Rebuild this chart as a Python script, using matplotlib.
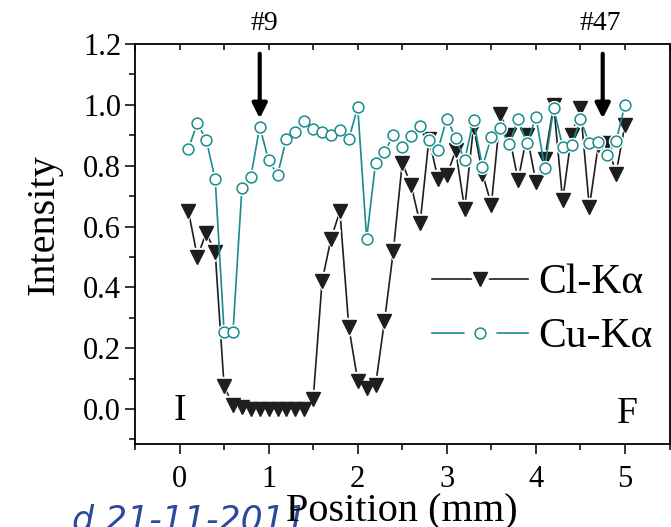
# intensity profile of Cl-Ka and Cu-Ka along the sample

import numpy as np
import matplotlib.pyplot as plt
from matplotlib.lines import Line2D
from matplotlib.ticker import MultipleLocator

position = np.round(np.arange(1, 51) * 0.1, 1)
cl_ka = [0.65, 0.50, 0.58, 0.515, 0.075, 0.012, 0.006, 0.0, 0.0, 0.0,
         0.0, 0.0, 0.0, 0.0, 0.032, 0.42, 0.56, 0.65, 0.27, 0.092,
         0.068, 0.078, 0.288, 0.52, 0.81, 0.735, 0.61, 0.889, 0.757, 0.768,
         0.85, 0.658, 0.928, 0.774, 0.672, 0.97, 0.90, 0.752, 0.90, 0.746,
         0.823, 0.999, 0.686, 0.90, 0.988, 0.664, 0.867, 0.873, 0.774, 0.935]
cu_ka = [0.856, 0.94, 0.884, 0.755, 0.254, 0.254, 0.726, 0.763, 0.928, 0.818,
         0.77, 0.889, 0.91, 0.947, 0.919, 0.911, 0.902, 0.917, 0.887, 0.993,
         0.56, 0.808, 0.845, 0.90, 0.862, 0.896, 0.929, 0.884, 0.852, 0.955,
         0.891, 0.818, 0.95, 0.796, 0.895, 0.925, 0.87, 0.952, 0.873, 0.96,
         0.793, 0.99, 0.862, 0.867, 0.952, 0.873, 0.878, 0.834, 0.88, 1.0]
arrow_labels = ["#9", "#47"]
arrow_x = [0.9, 4.75]
label_x = [0.95, 4.72]

plt.rcParams['font.family'] = ['Liberation Serif', 'DejaVu Serif']

black = '#1e1e1e'
teal = '#1a8c8c'

fig = plt.figure(figsize=(6.71, 5.27), dpi=100)
ax = fig.add_axes([0.2012, 0.1575, 0.7966, 0.759])

# lines, white halo round markers (gap like Origin), then markers
ax.plot(position, cl_ka, color=black, lw=1.2, zorder=2)
ax.plot(position, cl_ka, 'v', ms=12.5, color='white', zorder=3)
ax.plot(position, cl_ka, 'v', ms=9.5, color=black, zorder=4)
ax.plot(position, cu_ka, color=teal, lw=1.2, zorder=5)
ax.plot(position, cu_ka, 'o', ms=10, color='white', zorder=6)
ax.plot(position, cu_ka, 'o', ms=7.8, mfc='white', mec=teal, mew=1.1, zorder=7)

for lab, xa, xl in zip(arrow_labels, arrow_x, label_x):
    ax.annotate('', xy=(xa, 0.955), xytext=(xa, 1.168),
                arrowprops=dict(arrowstyle='-|>', lw=3, color='black',
                                mutation_scale=22, shrinkA=0, shrinkB=0))
    ax.text(xl, 1.245, lab, ha='center', va='baseline',
            fontsize=20, clip_on=False)

ax.text(0.0, -0.035, 'I', ha='center', va='baseline', fontsize=27)
ax.text(5.03, -0.045, 'F', ha='center', va='baseline', fontsize=27)

# legend: line - gap - marker - gap - line
h_cl = (Line2D([], [], color=black, lw=1.2),
        Line2D([], [], ls='none', marker='v', ms=22, color='white'),
        Line2D([], [], ls='none', marker='v', ms=9.5, color=black))
h_cu = (Line2D([], [], color=teal, lw=1.2),
        Line2D([], [], ls='none', marker='o', ms=22, color='white'),
        Line2D([], [], ls='none', marker='o', ms=7.8, mfc='white', mec=teal, mew=1.1))
leg = ax.legend([h_cl, h_cu], ['Cl-K\u03b1', 'Cu-K\u03b1'], loc='center left',
                bbox_to_anchor=(432 / 671, 1 - 310 / 527),
                bbox_transform=fig.transFigure, frameon=False, fontsize=30,
                handlelength=2.3, handletextpad=0.25, labelspacing=0.37,
                borderpad=0, borderaxespad=0)
leg.set_zorder(10)

ax.set_xlim(-0.5, 5.5)
ax.set_ylim(-0.115, 1.2)
ax.xaxis.set_major_locator(MultipleLocator(1))
ax.xaxis.set_minor_locator(MultipleLocator(0.5))
ax.yaxis.set_major_locator(MultipleLocator(0.2))
ax.yaxis.set_minor_locator(MultipleLocator(0.1))
ax.yaxis.set_major_formatter(plt.FuncFormatter(lambda v, p: f'{v:.1f}'))

ax.tick_params(which='both', direction='out', width=1.1, labelsize=22,
               top=True, right=False)
ax.tick_params(which='major', length=7)
ax.tick_params(which='minor', length=4)
ax.tick_params(axis='x', which='both', pad=8)
ax.tick_params(axis='y', which='both', pad=3)
# top ticks point inward
for t in ax.xaxis.get_major_ticks() + ax.xaxis.get_minor_ticks():
    t.tick2line.set_marker(3)
    t.tick2line.set_markersize(4)
for s in ax.spines.values():
    s.set_linewidth(1.3)

ax.set_xlabel('Position (mm)', fontsize=29, labelpad=0)
ax.set_ylabel('Intensity', fontsize=29)
ax.yaxis.set_label_coords(-0.135, 0.548)

fig.text(72 / 671, -0.006, 'd 21-11-2011', fontsize=25, style='italic',
         color='#2b4a9e', family='DejaVu Sans', ha='left', va='baseline',
         zorder=-1)

fig.savefig('out.png', dpi=100)
